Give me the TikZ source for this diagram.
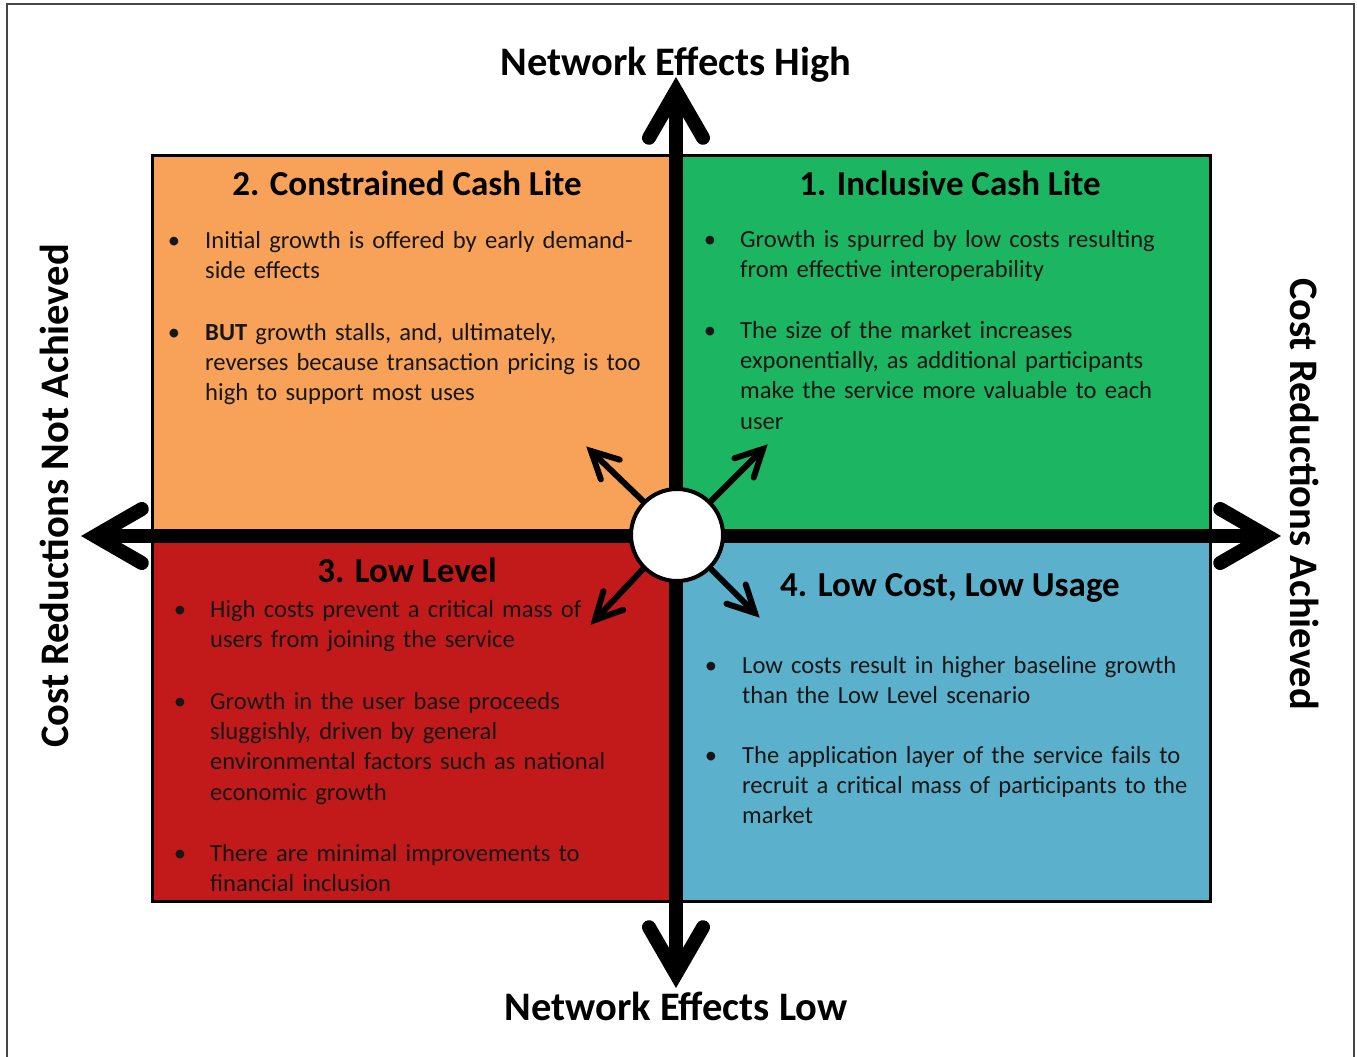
\documentclass[tikz,border=0pt]{standalone}
\usepackage{fontspec}
\setmainfont{Carlito}
\usetikzlibrary{calc}

\definecolor{qorange}{RGB}{247,162,88}
\definecolor{qgreen}{RGB}{28,181,98}
\definecolor{qred}{RGB}{194,25,27}
\definecolor{qblue}{RGB}{91,177,203}
\definecolor{bodyink}{RGB}{22,22,22}
\definecolor{frameink}{RGB}{70,70,70}

\begin{document}
\begin{tikzpicture}[x=1pt,y=-1pt,
  quad/.style={draw=black,line width=3pt},
  axisline/.style={draw=black,line width=14pt},
  chevron/.style={draw=black,line width=14pt,line cap=round,line join=miter,miter limit=20},
  spoke/.style={draw=black,line width=6pt,line cap=round},
  spokehead/.style={draw=black,line width=6pt,line cap=round,line join=miter,miter limit=20},
  axtitle/.style={font=\bfseries\fontsize{40.5}{48}\selectfont,inner sep=0pt},
  qtitle/.style={font=\bfseries\fontsize{35}{42}\selectfont,inner sep=0pt,anchor=base},
  item/.style={anchor=base west,inner sep=0pt,text width=520pt,align=left,
    text=bodyink,font=\fontsize{24.6}{30.4}\selectfont},
  dot/.style={anchor=base,inner sep=0pt,text=bodyink,font=\fontsize{24.6}{30.4}\selectfont},
  hubstyle/.style={circle,draw=black,line width=4pt,fill=white,minimum size=92pt,inner sep=0pt}
]
\useasboundingbox (0,0) rectangle (1357,1057);

% outer frame
\draw[frameink,line width=1.5pt] (7,1057) -- (7,4) -- (1354,4) -- (1354,1057);

% quadrants
\coordinate (ctr) at (676,536);
\filldraw[quad,fill=qorange] (152,155) rectangle (ctr);
\filldraw[quad,fill=qgreen] (1210,155) rectangle (ctr);
\filldraw[quad,fill=qred] (152,901) rectangle (ctr);
\filldraw[quad,fill=qblue] (1210,901) rectangle (ctr);

% axes with open chevron heads
\coordinate (vtop) at (676,91);
\coordinate (vbot) at (676,974);
\coordinate (hleft) at (95,536);
\coordinate (hright) at (1267,536);
\draw[axisline] (vtop) -- (vbot);
\draw[axisline] (hleft) -- (hright);
\draw[chevron] ($(vtop)!54pt!30:(vbot)$) -- (vtop) -- ($(vtop)!54pt!-30:(vbot)$);
\draw[chevron] ($(vbot)!54pt!30:(vtop)$) -- (vbot) -- ($(vbot)!54pt!-30:(vtop)$);
\draw[chevron] ($(hleft)!54pt!30:(hright)$) -- (hleft) -- ($(hleft)!54pt!-30:(hright)$);
\draw[chevron] ($(hright)!54pt!30:(hleft)$) -- (hright) -- ($(hright)!54pt!-30:(hleft)$);

% central hub with four spokes
\node[hubstyle] (hub) at (677,535) {};
\coordinate (tipNE) at (763,449);
\coordinate (tipNW) at (591,451);
\coordinate (tipSW) at (595,620);
\coordinate (tipSE) at (755,613);
\foreach \a/\t in {45/tipNE,135/tipNW,225/tipSW,315/tipSE}{
  \draw[spoke] (hub.\a) -- (\t);
  \draw[spokehead] ($(\t)!30pt!27:(hub.\a)$) -- (\t) -- ($(\t)!30pt!-27:(hub.\a)$);
}

% axis labels
\node[axtitle,anchor=base] (nhigh) at (676,75) {Network Effects High};
\node[axtitle,anchor=base] (nlow) at (676,1020) {Network Effects Low};
\node[axtitle,rotate=90] (cnot) at (54,496) {Cost Reductions Not Achieved};
\node[axtitle,rotate=-90] (cyes) at (1305,494) {Cost Reductions Achieved};

% quadrant titles
\node[qtitle] (t2) at (407,195) {2. Constrained Cash Lite};
\node[qtitle] (t1) at (950,195) {1. Inclusive Cash Lite};
\node[qtitle] (t3) at (407,582) {3. Low Level};
\node[qtitle] (t4) at (950,596) {4. Low Cost, Low Usage};

% quadrant 2 bullets
\node[dot] (b2a) at (174,248) {•};
\node[item] (i2a) at (205,248) {Initial growth is offered by early demand-\\side effects};
\node[dot] (b2b) at (174,340) {•};
\node[item] (i2b) at (205,340) {\textbf{BUT} growth stalls, and, ultimately,\\reverses because transaction pricing is too\\high to support most uses};

% quadrant 1 bullets
\node[dot] (b1a) at (710,247) {•};
\node[item] (i1a) at (740,247) {Growth is spurred by low costs resulting\\from effective interoperability};
\node[dot] (b1b) at (710,338) {•};
\node[item] (i1b) at (740,338) {The size of the market increases\\exponentially, as additional participants\\make the service more valuable to each\\user};

% quadrant 3 bullets
\node[dot] (b3a) at (180,617) {•};
\node[item] (i3a) at (210,617) {High costs prevent a critical mass of\\users from joining the service};
\node[dot] (b3b) at (180,709) {•};
\node[item] (i3b) at (210,709) {Growth in the user base proceeds\\sluggishly, driven by general\\environmental factors such as national\\economic growth};
\node[dot] (b3c) at (180,861) {•};
\node[item] (i3c) at (210,861) {There are minimal improvements to\\financial inclusion};

% quadrant 4 bullets
\node[dot] (b4a) at (711,673) {•};
\node[item] (i4a) at (742,673) {Low costs result in higher baseline growth\\than the Low Level scenario};
\node[dot] (b4b) at (711,763) {•};
\node[item] (i4b) at (742,763) {The application layer of the service fails to\\recruit a critical mass of participants to the\\market};
\end{tikzpicture}
\end{document}
